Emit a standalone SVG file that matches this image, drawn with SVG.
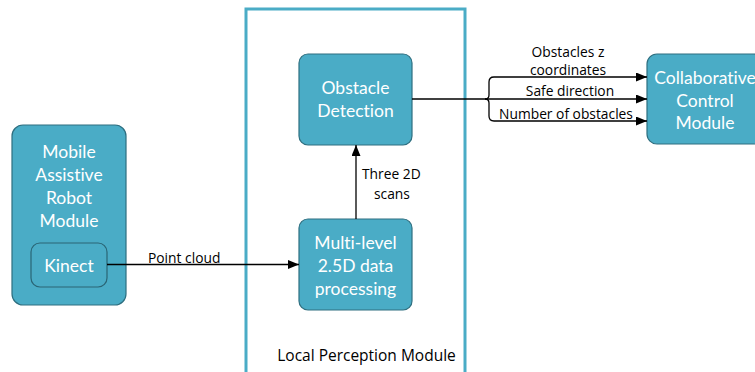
<svg xmlns="http://www.w3.org/2000/svg" width="755" height="372" viewBox="0 0 755 372">
  <defs>
    <marker id="arrow" markerWidth="11" markerHeight="9" refX="11" refY="4.5" orient="auto" markerUnits="userSpaceOnUse">
      <path d="M0,0 L11,4.5 L0,9 Z" fill="#000"/>
    </marker>
  </defs>
  <style>
    .node { fill: #4aacc6; stroke: #2e6f80; stroke-width: 1.2; }
    .inner { fill: #4aacc6; stroke: #2a6575; stroke-width: 1.2; }
    .ntext { font-family: Lato, "Open Sans", sans-serif; font-size: 17.5px; fill: #ffffff; text-anchor: middle; font-variant-ligatures: none; }
    .label { font-family: "Open Sans", Lato, sans-serif; font-size: 13.8px; fill: #000; }
    .title { font-family: "Open Sans", Lato, sans-serif; font-size: 15.5px; fill: #000; text-anchor: middle; }
    .edge { stroke: #000; stroke-width: 1.3; fill: none; }
  </style>
  <rect width="755" height="372" fill="#ffffff"/>

  <!-- Local Perception Module container -->
  <g id="local-perception">
    <rect x="246" y="9" width="219" height="380" fill="none" stroke="#4aacc6" stroke-width="3"/>
    <text class="title" x="366.5" y="361">Local Perception Module</text>
  </g>

  <g id="mobile-robot">
    <rect class="node" x="12" y="125" width="114" height="180" rx="11"/>
    <text class="ntext" x="69" y="158">Mobile</text>
    <text class="ntext" x="69" y="181">Assistive</text>
    <text class="ntext" x="69" y="204">Robot</text>
    <text class="ntext" x="69" y="227">Module</text>
  </g>

  <g id="kinect">
    <rect class="inner" x="31" y="243" width="76" height="44" rx="9"/>
    <text class="ntext" x="69" y="272">Kinect</text>
  </g>

  <g id="obstacle-detection">
    <rect class="node" x="299" y="54" width="113" height="91" rx="9"/>
    <text class="ntext" x="355.5" y="94">Obstacle</text>
    <text class="ntext" x="355.5" y="117">Detection</text>
  </g>

  <g id="multi-level">
    <rect class="node" x="299" y="219" width="113" height="91" rx="9"/>
    <text class="ntext" x="355.5" y="249">Multi-level</text>
    <text class="ntext" x="355.5" y="272">2.5D data</text>
    <text class="ntext" x="355.5" y="295">processing</text>
  </g>

  <g id="collaborative-control">
    <rect class="node" x="647" y="54" width="116" height="90" rx="10"/>
    <text class="ntext" x="705" y="84">Collaborative</text>
    <text class="ntext" x="705" y="107">Control</text>
    <text class="ntext" x="705" y="129">Module</text>
  </g>

  <g id="connectors">
    <!-- Kinect to 2.5D processing -->
    <line class="edge" x1="107" y1="264.5" x2="299" y2="264.5" marker-end="url(#arrow)"/>
    <text class="label" x="148" y="263">Point cloud</text>

    <!-- 2.5D processing to obstacle detection -->
    <line class="edge" x1="356" y1="219" x2="356" y2="145" marker-end="url(#arrow)"/>
    <text class="label" x="362" y="179">Three 2D</text>
    <text class="label" x="374" y="199">scans</text>

    <!-- Obstacle detection outputs, split by a brace -->
    <line class="edge" x1="412" y1="99" x2="485" y2="99"/>
    <path class="edge" d="M485,99 Q489,99 489,95 L489,82 Q489,77 494,77 L647,77" marker-end="url(#arrow)"/>
    <line class="edge" x1="485" y1="99" x2="647" y2="99" marker-end="url(#arrow)"/>
    <path class="edge" d="M485,99 Q489,99 489,103 L489,116 Q489,121 494,121 L647,121" marker-end="url(#arrow)"/>

    <text class="label" x="568" y="57" text-anchor="middle">Obstacles z</text>
    <text class="label" x="568" y="75" text-anchor="middle">coordinates</text>
    <text class="label" x="570" y="96" text-anchor="middle">Safe direction</text>
    <text class="label" x="566" y="119" text-anchor="middle">Number of obstacles</text>
  </g>
</svg>
